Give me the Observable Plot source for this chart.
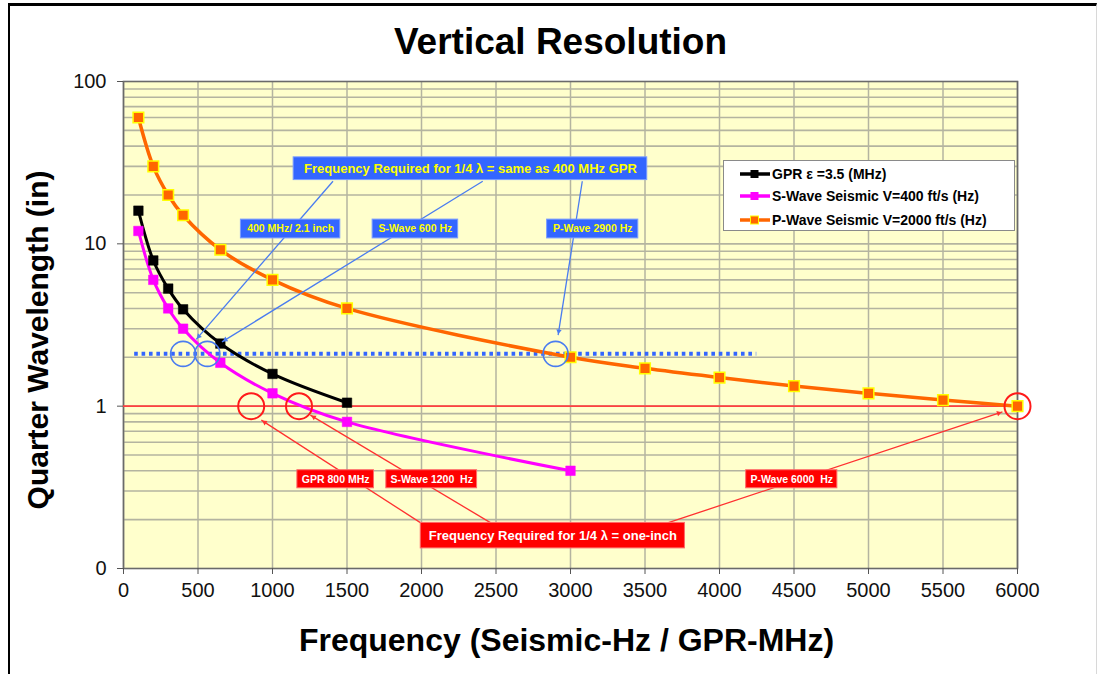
<!DOCTYPE html>
<html><head><meta charset="utf-8">
<script src="https://cdn.jsdelivr.net/npm/d3@7"></script>
<script src="https://cdn.jsdelivr.net/npm/@observablehq/plot@0.6"></script>
<style>
body{margin:0;background:#fff;font-family:"Liberation Sans",Arial,sans-serif;}
#wrap{position:relative;width:1097px;height:674px;overflow:hidden;}
#border{position:absolute;left:8px;top:3px;width:1086px;height:680px;border-top:3.5px solid #000;border-left:2.5px solid #000;border-right:1px solid #d8d8d8;}
#chart{position:absolute;left:0;top:0;}
#legend{position:absolute;left:723px;top:160px;width:292px;height:71px;background:#fff;border:1px solid #8a8a8a;box-sizing:border-box;}
.lrow{position:absolute;left:15px;height:16px;display:flex;align-items:center;font-weight:bold;font-size:14px;color:#000;white-space:nowrap;}
.lrow svg{margin-right:1px;}
</style></head><body>
<div id="wrap"><div id="border"></div><div id="chart"></div><div id="legend"></div></div>
<script>
// ---- data ----
const freqGPR = [100, 200, 300, 400, 650, 1000, 1500];
const lambdaGPR = [16, 7.9, 5.3, 3.95, 2.43, 1.58, 1.05];
const freqS = [100, 200, 300, 400, 650, 1000, 1500, 3000];
const lambdaS = [12, 6, 4, 3, 1.85, 1.2, 0.8, 0.4];
const freqP = [100, 200, 300, 400, 650, 1000, 1500, 3000, 3500, 4000, 4500, 5000, 5500, 6000];
const lambdaP = [60, 30, 20, 15, 9.2, 6, 4, 2, 1.71, 1.5, 1.33, 1.2, 1.09, 1];

const seriesNames = ["GPR \u03b5 =3.5 (MHz)", "S-Wave Seismic V=400 ft/s (Hz)", "P-Wave Seismic V=2000 ft/s (Hz)"];
const seriesColors = ["#000000", "#FF00FF", "#FF6600"];
const markerStrokes = ["#000000", "#FF00FF", "#FFFF00"];

const xTicks = [0, 500, 1000, 1500, 2000, 2500, 3000, 3500, 4000, 4500, 5000, 5500, 6000];
const yTicks = [0.1, 1, 10, 100];
const yTickLabels = ["0", "1", "10", "100"];
const yGrid = [0.2,0.3,0.4,0.5,0.6,0.7,0.8,0.9,1,2,3,4,5,6,7,8,9,10,20,30,40,50,60,70,80,90];

const title = "Vertical Resolution";
const xLabel = "Frequency (Seismic-Hz / GPR-MHz)";
const yLabel = "Quarter Wavelength (in)";

// reference levels
const oneInch = 1;
const sameAs400 = 2.1;
const dottedSpan = [75, 4250];
const blueCircles = [{x: 400, y: 2.1}, {x: 563, y: 2.1}, {x: 2900, y: 2.1}];
const redCircles = [{x: 857, y: 1}, {x: 1178, y: 1}, {x: 6000, y: 1}];

// annotation call-outs (data space)
const blueBigBox = [{label: "Frequency Required for 1/4 \u03bb = same as 400 MHz GPR", x1: 1142, x2: 3515, y1: 24.7, y2: 34.1}];
const blueSmallBoxes = [
  {label: "400 MHz/ 2.1 inch", x1: 788, x2: 1455, y1: 10.8, y2: 14.1},
  {label: "S-Wave 600 Hz", x1: 1672, x2: 2246, y1: 10.8, y2: 14.1},
  {label: "P-Wave 2900 Hz", x1: 2843, x2: 3455, y1: 10.8, y2: 14.1}
];
const blueLinks = [
  {x1: 1406, y1: 24.3, x2: 488, y2: 2.58},
  {x1: 2411, y1: 24.3, x2: 661, y2: 2.49},
  {x1: 3079, y1: 24.3, x2: 2917, y2: 2.74}
];
const redBigBox = [{label: "Frequency Required for 1/4 \u03bb = one-inch", x1: 1995, x2: 3768, y1: 0.133, y2: 0.191}];
const redSmallBoxes = [
  {label: "GPR 800 MHz", x1: 1167, x2: 1681, y1: 0.312, y2: 0.403},
  {label: "S-Wave 1200  Hz", x1: 1764, x2: 2373, y1: 0.312, y2: 0.403},
  {label: "P-Wave 6000  Hz", x1: 4179, x2: 4791, y1: 0.312, y2: 0.403}
];
const redLinks = [
  {x1: 1995, y1: 0.191, x2: 925, y2: 0.82},
  {x1: 2465, y1: 0.191, x2: 1254, y2: 0.88},
  {x1: 3652, y1: 0.191, x2: 5899, y2: 0.922}
];

// ---- build ----
const rows = (xs, ys) => xs.map((x, i) => ({x, y: ys[i]}));
const series = [rows(freqGPR, lambdaGPR), rows(freqS, lambdaS), rows(freqP, lambdaP)];
const FONT = '"Liberation Sans", Arial, sans-serif';
const BLUE = "#3366FF", BLUE_LINE = "#4a7cf0", RED = "#FF0000", RED_LINE = "#FF3030";
const cx = d => (d.x1 + d.x2) / 2, cy = d => Math.sqrt(d.y1 * d.y2);

function build(blueHeads, redHeads) {
  const seriesMarks = [];
  series.forEach((s, i) => {
    seriesMarks.push(Plot.line(s, {x: "x", y: "y", stroke: seriesColors[i], strokeWidth: i === 2 ? 3.5 : 3, curve: "catmull-rom"}));
  });
  series.forEach((s, i) => {
    seriesMarks.push(Plot.dot(s, {x: "x", y: "y", symbol: "square", r: i === 2 ? 6 : 5.4, fill: seriesColors[i], stroke: markerStrokes[i], strokeWidth: i === 2 ? 1.5 : 0.5}));
  });
  return Plot.plot({
    width: 1097, height: 674,
    marginLeft: 123, marginRight: 80, marginTop: 81, marginBottom: 106,
    style: {fontFamily: FONT, color: "#111", background: "transparent", overflow: "visible"},
    x: {domain: [0, 6000], label: null},
    y: {type: "log", domain: [0.1, 100], label: null},
    marks: [
      Plot.frame({fill: "#FFFFCC"}),
      Plot.gridX({ticks: xTicks, stroke: "#b4b4a0", strokeOpacity: 1, strokeWidth: 1.5}),
      Plot.gridY({ticks: yGrid, stroke: "#b4b4a0", strokeOpacity: 1, strokeWidth: 1.6}),
      Plot.frame({stroke: "#6a6a6a", strokeWidth: 1.6}),
      Plot.axisX({ticks: xTicks, tickSize: 6, tickPadding: 8, fontSize: 20, stroke: "#555", tickFormat: d => String(d), label: null}),
      Plot.axisY({ticks: yTicks, tickSize: 6, tickPadding: 11, fontSize: 20, stroke: "#555", tickFormat: d => yTickLabels[yTicks.indexOf(d)], label: null}),
      Plot.ruleY([oneInch], {stroke: "#FF4040", strokeWidth: 1.8}),
      Plot.ruleY([sameAs400], {x1: dottedSpan[0], x2: dottedSpan[1], stroke: "#3366FF", strokeWidth: 4, strokeDasharray: "3.6,3.8"}),
      ...seriesMarks,
      Plot.dot(blueCircles, {x: "x", y: "y", r: 12.5, stroke: BLUE_LINE, strokeWidth: 1.6, fill: "none"}),
      Plot.dot(redCircles, {x: "x", y: "y", r: 13, stroke: "#FF1a1a", strokeWidth: 2, fill: "none"}),
      Plot.link(blueLinks, {x1: "x1", y1: "y1", x2: "x2", y2: "y2", stroke: BLUE_LINE, strokeWidth: 1.3}),
      Plot.link(redLinks, {x1: "x1", y1: "y1", x2: "x2", y2: "y2", stroke: RED_LINE, strokeWidth: 1.3}),
      Plot.dot(blueHeads, {x: "x", y: "y", rotate: "rotate", symbol: "triangle2", r: 2.6, fill: BLUE_LINE, stroke: "none"}),
      Plot.dot(redHeads, {x: "x", y: "y", rotate: "rotate", symbol: "triangle2", r: 2.6, fill: RED_LINE, stroke: "none"}),
      Plot.rect(blueBigBox.concat(blueSmallBoxes), {x1: "x1", x2: "x2", y1: "y1", y2: "y2", fill: BLUE, stroke: "#7a9cff", strokeWidth: 1}),
      Plot.rect(redBigBox.concat(redSmallBoxes), {x1: "x1", x2: "x2", y1: "y1", y2: "y2", fill: RED, stroke: "#ff6a6a", strokeWidth: 1}),
      Plot.text(blueBigBox, {x: cx, y: cy, text: "label", fill: "#FFFF00", fontWeight: "bold", fontSize: 13}),
      Plot.text(blueSmallBoxes, {x: cx, y: cy, text: "label", fill: "#FFFF00", fontWeight: "bold", fontSize: 10.5}),
      Plot.text(redBigBox, {x: cx, y: cy, text: "label", fill: "#FFFFFF", fontWeight: "bold", fontSize: 13}),
      Plot.text(redSmallBoxes, {x: cx, y: cy, text: "label", fill: "#FFFFFF", fontWeight: "bold", fontSize: 10.5}),
      Plot.text([title], {text: d => d, frameAnchor: "top", textAnchor: "middle", lineAnchor: "middle", dx: -10, dy: -39, fontSize: 37, fontWeight: "bold", fill: "#000"}),
      Plot.text([xLabel], {text: d => d, frameAnchor: "bottom", textAnchor: "middle", lineAnchor: "middle", dx: -4, dy: 72, fontSize: 32, fontWeight: "bold", fill: "#000"}),
      Plot.text([yLabel], {text: d => d, frameAnchor: "left", textAnchor: "middle", lineAnchor: "middle", dx: -85, dy: 15, rotate: -90, fontSize: 30, fontWeight: "bold", fill: "#000"})
    ]
  });
}

const p0 = build([], []);
const sx = p0.scale("x"), sy = p0.scale("y");
function heads(links) {
  return links.map(l => {
    const px1 = sx.apply(l.x1), py1 = sy.apply(l.y1), px2 = sx.apply(l.x2), py2 = sy.apply(l.y2);
    const a = Math.atan2(py2 - py1, px2 - px1);
    const back = 4;
    return {x: sx.invert(px2 - back * Math.cos(a)), y: sy.invert(py2 - back * Math.sin(a)), rotate: a * 180 / Math.PI + 90};
  });
}
const chart = build(heads(blueLinks), heads(redLinks));
document.getElementById("chart").appendChild(chart);

// legend
const legend = d3.select("#legend");
const rowTops = [5, 27, 51];
seriesNames.forEach((name, i) => {
  const row = legend.append("div").attr("class", "lrow").style("top", rowTops[i] + "px");
  const svg = row.append("svg").attr("width", 32).attr("height", 12);
  svg.append("line").attr("x1", 1).attr("x2", 31).attr("y1", 6).attr("y2", 6).attr("stroke", seriesColors[i]).attr("stroke-width", 3.5);
  svg.append("rect").attr("x", 11.5).attr("y", 2).attr("width", 8).attr("height", 8).attr("fill", seriesColors[i]).attr("stroke", markerStrokes[i]).attr("stroke-width", i === 2 ? 1 : 0);
  row.append("span").text(name);
});
</script>
</body></html>
